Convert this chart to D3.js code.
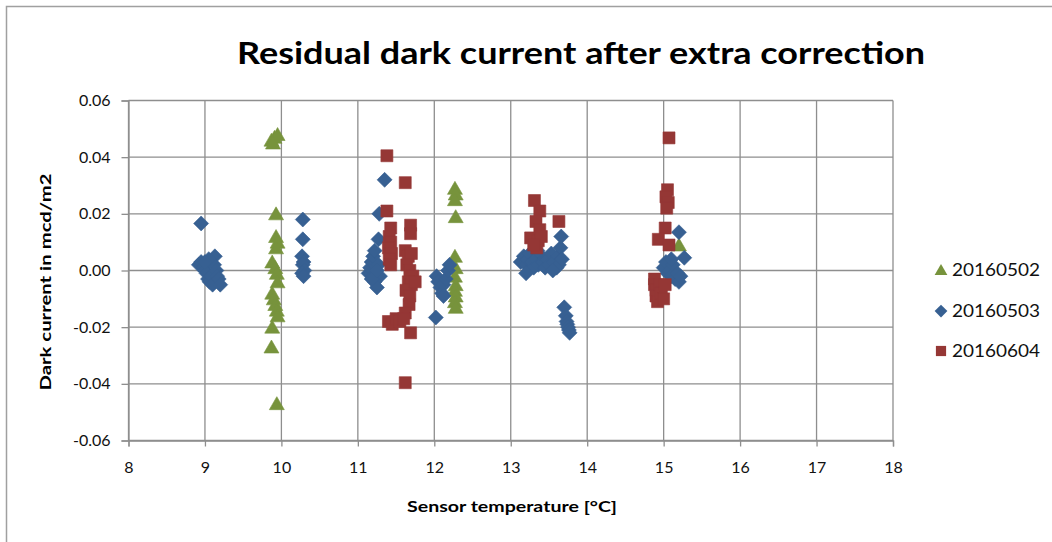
<!DOCTYPE html>
<html><head><meta charset="utf-8">
<script src="https://cdn.jsdelivr.net/npm/d3@7"></script>
<style>body{margin:0;background:#fff}svg{display:block}</style>
</head><body>
<svg id="chart" width="1052" height="542"></svg>
<script>
// ---- data ----
const title = "Residual dark current after extra correction";
const xTitle = "Sensor temperature [°C]";
const yTitle = "Dark current in mcd/m2";
const xTicks = [8,9,10,11,12,13,14,15,16,17,18];
const xTickLabels = ["8","9","10","11","12","13","14","15","16","17","18"];
const yTicks = [-0.06,-0.04,-0.02,0,0.02,0.04,0.06];
const yTickLabels = ["-0.06","-0.04","-0.02","0.00","0.02","0.04","0.06"];
const seriesNames = ["20160502","20160503","20160604"];

const s20160502 = [
  [9.87,0.046],[9.91,0.047],[9.95,0.048],[9.89,0.045],[9.93,0.020],[9.93,0.012],[9.95,0.010],[9.93,0.008],
  [9.88,0.003],[9.92,0.001],[9.94,-0.001],[9.95,-0.004],[9.88,-0.008],[9.90,-0.010],[9.92,-0.012],[9.94,-0.014],
  [9.95,-0.016],[9.88,-0.020],[9.87,-0.027],[9.94,-0.047],
  [12.27,0.029],[12.28,0.027],[12.27,0.025],[12.28,0.019],[12.27,0.005],[12.28,0.001],[12.27,-0.002],
  [12.28,-0.005],[12.27,-0.007],[12.28,-0.009],[12.27,-0.011],[12.28,-0.013],
  [15.20,0.009]
];
const s20160503 = [
  [8.95,0.0166],[8.92,0.002],[8.95,0.003],[8.98,0.001],[9.00,0.000],[9.02,-0.001],[9.04,-0.003],[9.06,-0.004],
  [9.08,-0.002],[9.10,-0.005],[9.13,0.005],[9.12,0.002],[9.15,0.000],[9.16,-0.002],[9.18,-0.003],[9.20,-0.005],
  [9.05,0.004],[9.00,0.003],
  [10.28,0.018],[10.28,0.011],[10.27,0.005],[10.29,0.003],[10.28,0.002],[10.30,0.000],[10.27,-0.001],[10.29,-0.002],
  [11.35,0.032],[11.28,0.020],[11.27,0.011],[11.14,-0.001],[11.16,0.001],[11.18,0.003],[11.20,0.005],[11.22,0.007],
  [11.20,-0.002],[11.22,-0.004],[11.25,-0.006],[11.27,0.002],[11.29,-0.002],[11.18,-0.003],[11.25,0.000],
  [12.02,-0.0166],[12.03,-0.002],[12.05,-0.004],[12.08,-0.006],[12.10,-0.008],[12.12,-0.005],[12.15,-0.003],
  [12.18,0.000],[12.20,0.002],[12.12,-0.009],
  [13.13,0.003],[13.17,0.005],[13.20,0.002],[13.22,0.004],[13.25,0.006],[13.28,0.003],[13.30,0.001],[13.33,0.004],
  [13.36,0.002],[13.40,0.005],[13.42,0.003],[13.45,0.001],[13.48,0.004],[13.50,0.002],[13.53,0.006],[13.56,0.003],
  [13.60,0.001],[13.62,0.005],[13.65,0.008],[13.66,0.012],[13.63,0.002],[13.67,0.004],[13.55,0.000],[13.35,0.007],[13.20,-0.001],
  [13.70,-0.013],[13.72,-0.016],[13.73,-0.018],[13.74,-0.019],[13.75,-0.020],[13.76,-0.021],[13.77,-0.022],
  [15.20,0.0135],[15.27,0.0045],[15.00,0.001],[15.03,0.003],[15.05,-0.001],[15.08,0.000],[15.10,-0.002],[15.12,0.002],
  [15.15,-0.003],[15.18,-0.001],[15.20,-0.004],[15.22,-0.002],[15.10,0.004]
];
const s20160604 = [
  [11.38,0.0405],[11.62,0.031],[11.38,0.021],[11.69,0.016],[11.69,0.013],[11.43,0.015],[11.41,0.012],[11.43,0.010],
  [11.40,0.008],[11.44,0.006],[11.41,0.004],[11.43,0.002],[11.62,0.007],[11.66,0.005],[11.70,0.006],[11.64,0.002],
  [11.68,0.000],[11.72,-0.002],[11.66,-0.004],[11.70,-0.005],[11.63,-0.007],[11.68,-0.009],[11.75,-0.004],
  [11.67,-0.012],[11.62,-0.015],[11.40,-0.018],[11.45,-0.019],[11.50,-0.017],[11.55,-0.018],[11.60,-0.017],
  [11.69,-0.022],[11.62,-0.0396],
  [13.31,0.0247],[13.38,0.021],[13.33,0.0173],[13.63,0.0173],[13.38,0.0144],[13.26,0.0115],[13.36,0.0105],
  [13.34,0.008],[13.40,0.012],[13.30,0.009],
  [15.07,0.0468],[15.05,0.0285],[15.03,0.026],[15.06,0.024],[15.04,0.022],[15.02,0.015],[14.93,0.011],[15.07,0.009],
  [14.88,-0.003],[14.88,-0.005],[14.90,-0.007],[14.90,-0.009],[14.92,-0.011],[14.95,-0.005],[14.97,-0.008],
  [15.02,-0.005],[15.00,-0.010]
];
const seriesData = [s20160502, s20160503, s20160604];
const seriesColors = ["#77933C","#376092","#953735"];
const seriesShapes = ["triangle","diamond","square"];

// ---- drawing ----
const svg = d3.select("#chart");
const FONT = "Lato, 'Open Sans', sans-serif";
const x = d3.scaleLinear().domain([8,18]).range([128.5,893]);
const y = d3.scaleLinear().domain([-0.06,0.06]).range([440.5,100.5]);

// outer frame (left and top edges visible)
svg.append("path").attr("d","M6.5,542V6.5H1052").attr("fill","none").attr("stroke","#a0a0a0").attr("stroke-width",1.5);

// title
svg.append("text").attr("x",581).attr("y",64).attr("text-anchor","middle")
  .attr("font-family",FONT).attr("font-weight","bold").attr("font-size",30)
  .attr("textLength",688).attr("lengthAdjust","spacingAndGlyphs").attr("fill","#000").text(title);

// gridlines
const grid = svg.append("g").attr("stroke","#8e8e8e").attr("stroke-width",1.3);
xTicks.forEach(t=>grid.append("line").attr("x1",x(t)).attr("x2",x(t)).attr("y1",y(0.06)).attr("y2",y(-0.06)));
yTicks.forEach(t=>grid.append("line").attr("x1",x(8)).attr("x2",x(18)).attr("y1",y(t)).attr("y2",y(t)));

// axes with ticks
const yAxis = d3.axisLeft(y).tickValues(yTicks).tickSize(7).tickPadding(11)
  .tickFormat((d,i)=>yTickLabels[i]);
const gy = svg.append("g").attr("transform",`translate(${x(8)},0)`).call(yAxis);
const xAxis = d3.axisBottom(x).tickValues(xTicks).tickSize(6).tickPadding(15)
  .tickFormat((d,i)=>xTickLabels[i]);
const gx = svg.append("g").attr("transform",`translate(0,${y(-0.06)})`).call(xAxis);
[gx,gy].forEach(g=>{
  g.select(".domain").attr("stroke","#8e8e8e").attr("stroke-width",1.3);
  g.selectAll(".tick line").attr("stroke","#8e8e8e").attr("stroke-width",1.3);
  g.selectAll("text").attr("font-family",FONT).attr("font-size",16).attr("fill","#111");
});

// axis titles
svg.append("text").attr("x",512).attr("y",512).attr("text-anchor","middle")
  .attr("font-family",FONT).attr("font-weight","bold").attr("font-size",16)
  .attr("textLength",210).attr("lengthAdjust","spacingAndGlyphs").attr("fill","#000").text(xTitle);
svg.append("text").attr("transform","translate(51,282) rotate(-90)").attr("text-anchor","middle")
  .attr("font-family",FONT).attr("font-weight","bold").attr("font-size",16)
  .attr("textLength",217).attr("lengthAdjust","spacingAndGlyphs").attr("fill","#000").text(yTitle);

// marker paths
function shapePath(shape){
  if(shape==="triangle") return "M0,-7L7.5,6L-7.5,6Z";
  if(shape==="diamond") return "M0,-7.5L7.5,0L0,7.5L-7.5,0Z";
  return "M-6,-6H6V6H-6Z";
}

const plot = svg.append("g");
seriesData.forEach((data,si)=>{
  plot.append("g").selectAll("path").data(data).join("path")
    .attr("d",shapePath(seriesShapes[si]))
    .attr("transform",d=>`translate(${x(d[0])},${y(d[1])})`)
    .attr("fill",seriesColors[si])
    .attr("stroke",seriesColors[si]).attr("stroke-width",0.6);
});

// legend
const legendY = [270,311,351];
seriesNames.forEach((name,i)=>{
  svg.append("path").attr("d",shapePath(seriesShapes[i]))
    .attr("transform",`translate(941,${legendY[i]}) scale(0.85)`)
    .attr("fill",seriesColors[i]);
  svg.append("text").attr("x",952).attr("y",legendY[i]+6)
    .attr("font-family",FONT).attr("font-size",18)
    .attr("textLength",88).attr("lengthAdjust","spacingAndGlyphs").attr("fill","#111").text(name);
});
</script>
</body></html>
